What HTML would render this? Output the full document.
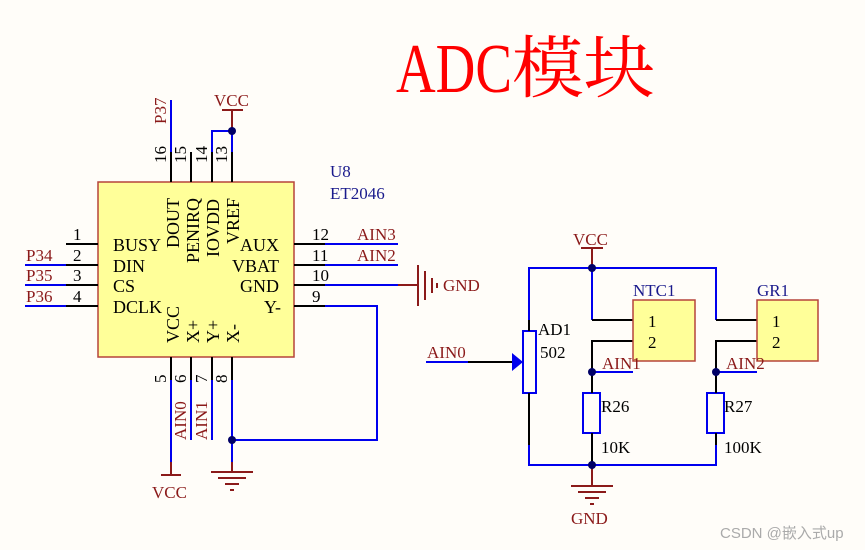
<!DOCTYPE html>
<html><head><meta charset="utf-8"><style>
html,body{margin:0;padding:0;background:#fffdf9;}
svg{display:block;}
text{font-family:"Liberation Serif","Noto Serif CJK SC",serif;}
.r{fill:#8b1a1a;font-size:17px;}
.k{fill:#000;font-size:17px;}
.c{fill:#000;font-size:18px;}
.n{fill:#1a1a8c;font-size:17px;}
</style></head><body>
<svg width="865" height="550" viewBox="0 0 865 550" xmlns="http://www.w3.org/2000/svg">
<rect width="865" height="550" fill="#fffdf9"/>
<text x="396" y="92" fill="#ff0000" font-size="70" textLength="116" lengthAdjust="spacingAndGlyphs">ADC</text>
<text x="512" y="92" fill="#ff0000" font-size="68" textLength="143" lengthAdjust="spacingAndGlyphs">模块</text>

<g stroke-width="2" fill="none">
<rect x="98" y="182" width="196" height="175" fill="#ffff99" stroke="#b5443a" stroke-width="1.5"/>
<g stroke="#000"><line x1="171" y1="152" x2="171" y2="182"/><line x1="191" y1="152" x2="191" y2="182"/><line x1="212" y1="152" x2="212" y2="182"/><line x1="232" y1="152" x2="232" y2="182"/></g>
<g stroke="#0000ee"><line x1="171" y1="100" x2="171" y2="152"/><polyline points="212,152 212,131 232,131 232,152"/></g>
<line x1="232" y1="110" x2="232" y2="131" stroke="#8b1a1a"/>
<line x1="222" y1="110" x2="243" y2="110" stroke="#8b1a1a"/>
<g stroke="#000"><line x1="66" y1="244" x2="98" y2="244"/><line x1="66" y1="265" x2="98" y2="265"/><line x1="66" y1="285" x2="98" y2="285"/><line x1="66" y1="306" x2="98" y2="306"/></g>
<g stroke="#0000ee"><line x1="25" y1="265" x2="66" y2="265"/><line x1="25" y1="285" x2="66" y2="285"/><line x1="25" y1="306" x2="66" y2="306"/></g>
<g stroke="#000"><line x1="294" y1="244" x2="325" y2="244"/><line x1="294" y1="265" x2="325" y2="265"/><line x1="294" y1="285" x2="325" y2="285"/><line x1="294" y1="306" x2="325" y2="306"/></g>
<g stroke="#0000ee"><line x1="325" y1="244" x2="398" y2="244"/><line x1="325" y1="265" x2="398" y2="265"/><line x1="325" y1="285" x2="398" y2="285"/><polyline points="325,306 377,306 377,440 232,440"/></g>
<g stroke="#8b1a1a"><line x1="398" y1="285" x2="418" y2="285"/><line x1="418" y1="265" x2="418" y2="306"/><line x1="425" y1="271" x2="425" y2="300"/><line x1="432" y1="278" x2="432" y2="293"/><line x1="437" y1="283" x2="437" y2="288"/></g>
<g stroke="#000"><line x1="171" y1="357" x2="171" y2="380"/><line x1="191" y1="357" x2="191" y2="380"/><line x1="212" y1="357" x2="212" y2="380"/><line x1="232" y1="357" x2="232" y2="380"/></g>
<g stroke="#0000ee"><line x1="171" y1="380" x2="171" y2="462"/><line x1="191" y1="380" x2="191" y2="440"/><line x1="212" y1="380" x2="212" y2="440"/><line x1="232" y1="380" x2="232" y2="462"/></g>
<g stroke="#8b1a1a"><line x1="171" y1="462" x2="171" y2="475"/><line x1="161" y1="475" x2="181" y2="475"/><line x1="232" y1="462" x2="232" y2="472"/><line x1="211" y1="472" x2="253" y2="472"/><line x1="218" y1="478" x2="246" y2="478"/><line x1="225" y1="484" x2="239" y2="484"/><line x1="230" y1="490" x2="234" y2="490"/></g>

<g stroke="#0000ee"><polyline points="529,320 529,268 716,268 716,320"/><polyline points="529,445 529,465 716,465 716,445"/><line x1="592" y1="268" x2="592" y2="320"/><line x1="592" y1="372" x2="633" y2="372"/><line x1="716" y1="372" x2="757" y2="372"/><line x1="426" y1="362" x2="468" y2="362"/>
<rect x="523" y="331" width="13" height="62"/><rect x="583" y="393" width="17" height="40"/><rect x="707" y="393" width="17" height="40"/></g>
<g stroke="#000"><line x1="529" y1="320" x2="529" y2="331"/><line x1="529" y1="393" x2="529" y2="445"/><line x1="592" y1="320" x2="633" y2="320"/><polyline points="633,341 592,341 592,393"/><line x1="592" y1="433" x2="592" y2="465"/><line x1="716" y1="320" x2="757" y2="320"/><polyline points="757,341 716,341 716,393"/><line x1="716" y1="433" x2="716" y2="445"/><line x1="468" y1="362" x2="512" y2="362"/></g>
<polygon points="512,353 523,362 512,371" fill="#0000ee" stroke="none"/>
<g stroke="#8b1a1a"><line x1="592" y1="248" x2="592" y2="268"/><line x1="581" y1="248" x2="603" y2="248"/><line x1="592" y1="465" x2="592" y2="486"/><line x1="571" y1="486" x2="613" y2="486"/><line x1="578" y1="492" x2="606" y2="492"/><line x1="585" y1="498" x2="599" y2="498"/><line x1="590" y1="504" x2="594" y2="504"/></g>
<rect x="633" y="300" width="62" height="61" fill="#ffff99" stroke="#b5443a" stroke-width="1.5"/>
<rect x="757" y="300" width="61" height="61" fill="#ffff99" stroke="#b5443a" stroke-width="1.5"/>
</g>
<g fill="#000066"><circle cx="232" cy="131" r="4"/><circle cx="232" cy="440" r="4"/><circle cx="592" cy="268" r="4"/><circle cx="592" cy="465" r="4"/><circle cx="592" cy="372" r="4"/><circle cx="716" cy="372" r="4"/></g>

<text class="r" x="214" y="106">VCC</text>
<text class="r" transform="translate(166,124) rotate(-90)">P37</text>
<g class="k">
<text transform="translate(166,163) rotate(-90)">16</text><text transform="translate(186,163) rotate(-90)">15</text><text transform="translate(207,163) rotate(-90)">14</text><text transform="translate(227,163) rotate(-90)">13</text>
<text x="73" y="240">1</text><text x="73" y="261">2</text><text x="73" y="281">3</text><text x="73" y="302">4</text>
<text x="312" y="240">12</text><text x="312" y="261">11</text><text x="312" y="281">10</text><text x="312" y="302">9</text>
<text transform="translate(166,383) rotate(-90)">5</text><text transform="translate(186,383) rotate(-90)">6</text><text transform="translate(207,383) rotate(-90)">7</text><text transform="translate(227,383) rotate(-90)">8</text>
<text x="648" y="327">1</text><text x="648" y="348">2</text><text x="772" y="327">1</text><text x="772" y="348">2</text>
<text x="538" y="335">AD1</text><text x="540" y="358">502</text>
<text x="601" y="412">R26</text><text x="601" y="453">10K</text>
<text x="724" y="412">R27</text><text x="724" y="453">100K</text>
</g>
<g class="c">
<text transform="translate(179,248) rotate(-90)">DOUT</text><text transform="translate(199,263) rotate(-90)">PENIRQ</text><text transform="translate(219,257) rotate(-90)">IOVDD</text><text transform="translate(239,244) rotate(-90)">VREF</text>
<text x="113" y="251">BUSY</text><text x="113" y="272">DIN</text><text x="113" y="292">CS</text><text x="113" y="313">DCLK</text>
<text x="240" y="251">AUX</text><text x="232" y="272">VBAT</text><text x="240" y="292">GND</text><text x="264" y="313">Y-</text>
<text transform="translate(179,343) rotate(-90)">VCC</text><text transform="translate(199,343) rotate(-90)">X+</text><text transform="translate(219,343) rotate(-90)">Y+</text><text transform="translate(239,343) rotate(-90)">X-</text>
</g>
<text class="n" x="330" y="177">U8</text><text class="n" x="330" y="199">ET2046</text>
<text class="n" x="633" y="296">NTC1</text><text class="n" x="757" y="296">GR1</text>
<g class="r">
<text x="26" y="261">P34</text><text x="26" y="281">P35</text><text x="26" y="302">P36</text>
<text x="357" y="240">AIN3</text><text x="357" y="261">AIN2</text><text x="443" y="291">GND</text>
<text transform="translate(186,440) rotate(-90)">AIN0</text><text transform="translate(207,440) rotate(-90)">AIN1</text>
<text x="152" y="498">VCC</text><text x="573" y="245">VCC</text><text x="571" y="524">GND</text>
<text x="427" y="358">AIN0</text><text x="602" y="369">AIN1</text><text x="726" y="369">AIN2</text>
</g>
<text x="720" y="538" fill="#aaaaaa" style="font-family:'Liberation Sans','Noto Sans CJK SC',sans-serif;font-size:15px">CSDN @嵌入式up</text>
</svg>
</body></html>
